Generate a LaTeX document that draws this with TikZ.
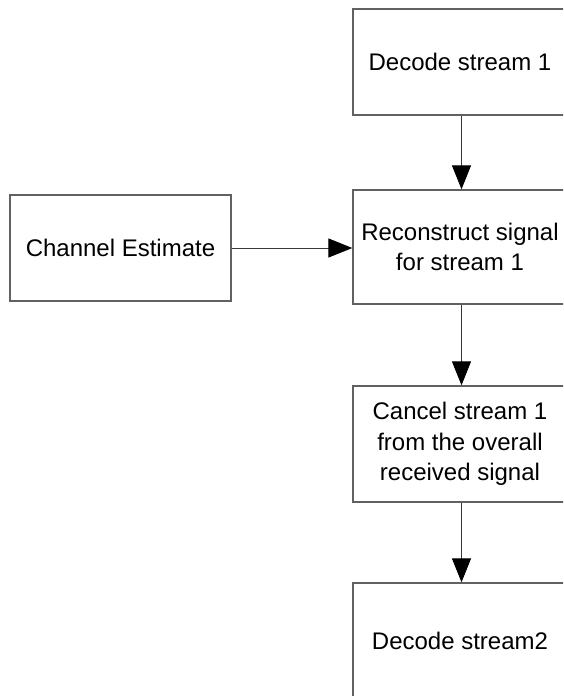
\documentclass[tikz,border=0pt]{standalone}
\usepackage{fontspec}
\setmainfont{Liberation Sans}
\usetikzlibrary{arrows.meta}
\definecolor{boxline}{rgb}{0.38,0.38,0.38}
\definecolor{arrline}{rgb}{0.22,0.22,0.22}
\tikzset{
  blockbox/.style={draw=boxline, line width=1.3pt, rectangle, align=center,
    minimum width=214pt, inner sep=0pt,
    font=\fontsize{24}{30.5}\selectfont},
  flowarrow/.style={draw=arrline, line width=1pt,
    -{Triangle[length=24pt, width=19pt, fill=black, color=black]}}
}
\begin{document}
\begin{tikzpicture}[x=1pt, y=-1pt]
  \useasboundingbox (0,0) rectangle (563,696);
  \clip (0,0) rectangle (563,696);
  % processing chain on the right
  \node[blockbox, minimum height=106pt] (dec1) at (460,62) {Decode stream 1};
  \node[blockbox, minimum height=114pt] (rec) at (460,247) {Reconstruct signal\\for stream 1};
  \node[blockbox, minimum height=116pt] (canc) at (460,444) {Cancel stream 1\\from the overall\\received signal};
  \node[blockbox, minimum height=116pt] (dec2) at (460,641) {Decode stream2};
  % side input
  \node[blockbox, minimum width=221pt, minimum height=106pt] (chan) at (120.5,248) {Channel Estimate};
  % connectors
  \draw[flowarrow] ([xshift=1.5pt]dec1.south) -- ([xshift=1.5pt]rec.north);
  \draw[flowarrow] ([xshift=1.5pt]rec.south) -- ([xshift=1.5pt]canc.north);
  \draw[flowarrow] ([xshift=1.5pt]canc.south) -- ([xshift=1.5pt]dec2.north);
  \draw[flowarrow] (chan.east) -- (chan.east -| rec.west);
\end{tikzpicture}
\end{document}
